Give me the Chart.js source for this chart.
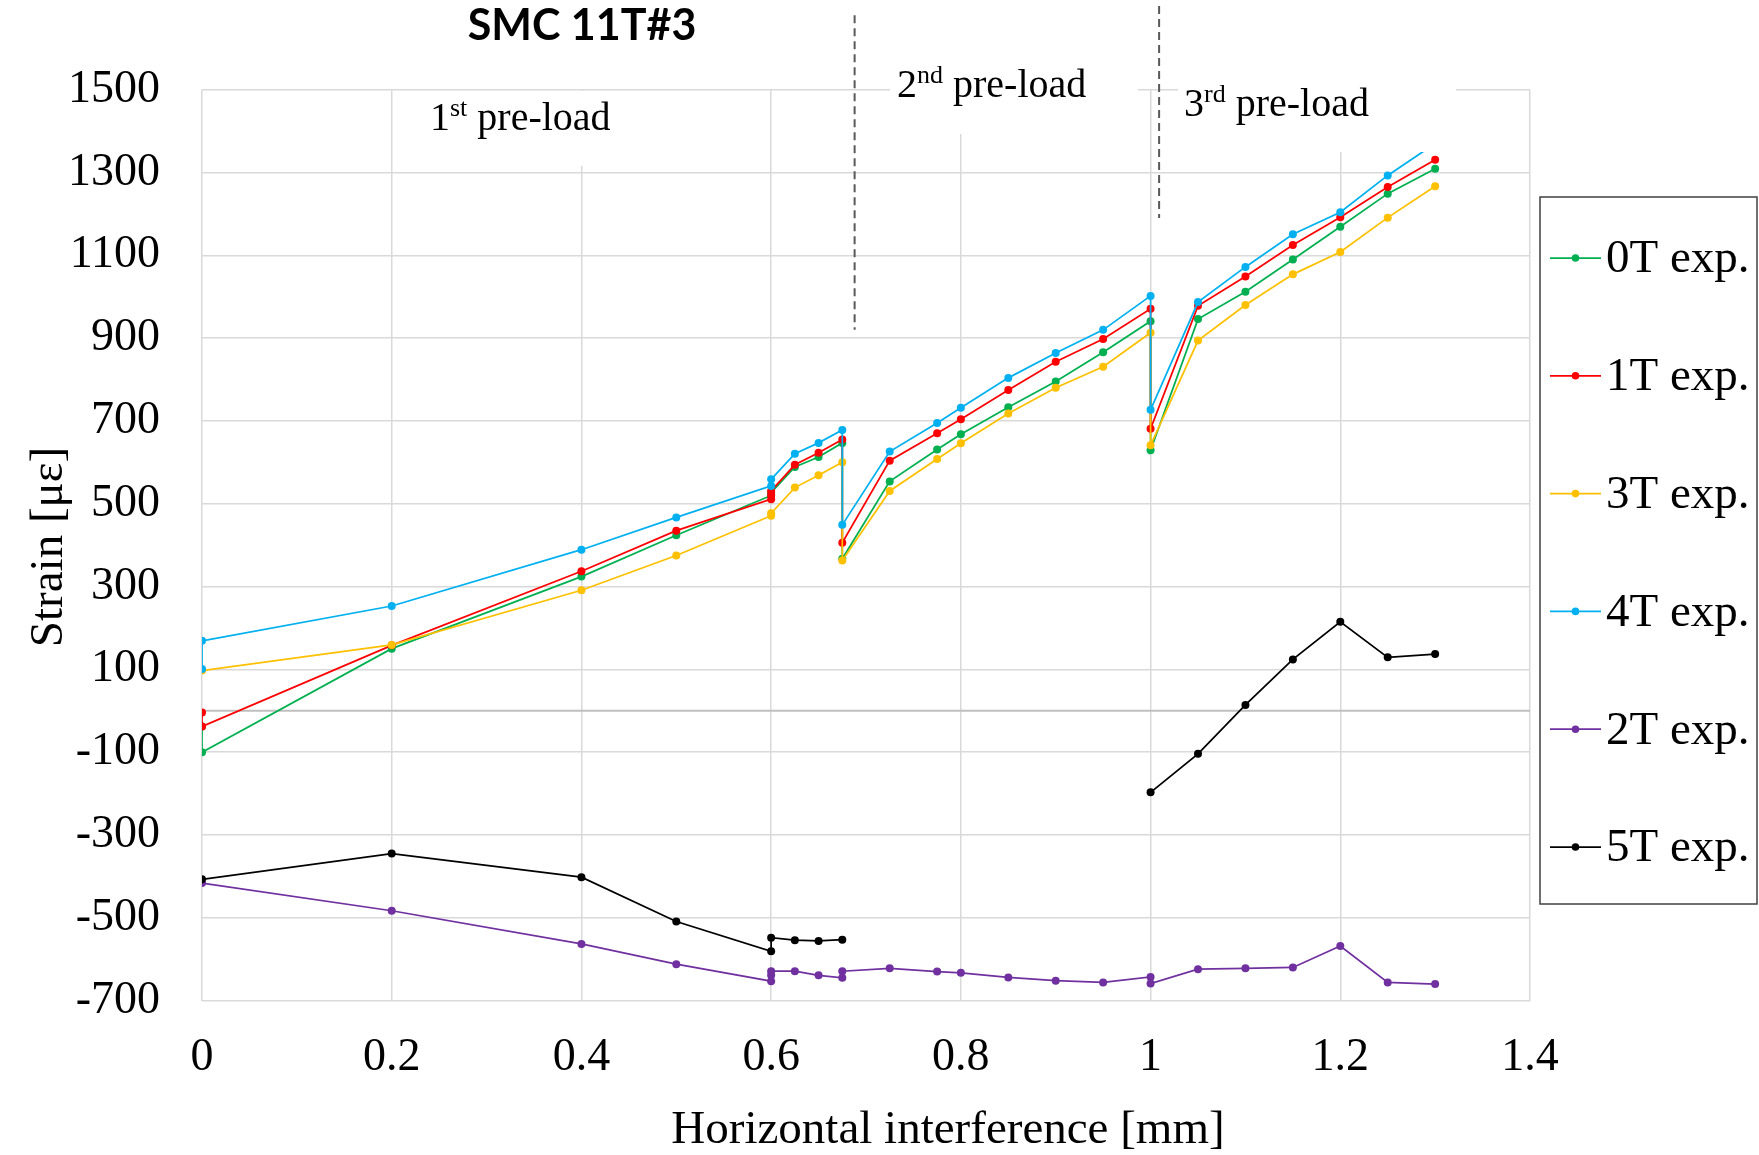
<!DOCTYPE html>
<html>
<head>
<meta charset="utf-8">
<script src="https://cdn.jsdelivr.net/npm/chart.js@4.4.0/dist/chart.umd.min.js"></script>
<style>
  html, body { margin: 0; padding: 0; background: #fff; }
  canvas { display: block; }
</style>
</head>
<body>
<canvas id="chart" width="1759" height="1155"></canvas>
<script>
// series labels, in the legend order of the original
const seriesNames = ["0T exp.", "1T exp.", "3T exp.", "4T exp.", "2T exp.", "5T exp."];
const seriesColors = ["#00B050", "#FF0000", "#FFC000", "#00B0F0", "#7030A0", "#000000"];

const xTicks = [0, 0.2, 0.4, 0.6, 0.8, 1, 1.2, 1.4];
const yTicks = [-700, -500, -300, -100, 100, 300, 500, 700, 900, 1100, 1300, 1500];

// [horizontal interference (mm), strain (µε)]
const exp0T = [[0, -38], [0, -100], [0.2, 150], [0.4, 324], [0.5, 424], [0.6, 520], [0.6, 527],
  [0.625, 589], [0.65, 613], [0.675, 647], [0.675, 367], [0.725, 554], [0.775, 631], [0.8, 668],
  [0.85, 733], [0.9, 795], [0.95, 866], [1, 941], [1, 629], [1.05, 946], [1.1, 1012], [1.15, 1090],
  [1.2, 1169], [1.25, 1249], [1.3, 1309]];
const exp1T = [[0, -4], [0, -38], [0.2, 158], [0.4, 337], [0.5, 435], [0.6, 511], [0.6, 521], [0.6, 531],
  [0.625, 594], [0.65, 623], [0.675, 655], [0.675, 406], [0.725, 604], [0.775, 670], [0.8, 704],
  [0.85, 775], [0.9, 843], [0.95, 898], [1, 971], [1, 681], [1.05, 978], [1.1, 1049], [1.15, 1125],
  [1.2, 1192], [1.25, 1265], [1.3, 1331]];
const exp3T = [[0, 97], [0.2, 159], [0.4, 291], [0.5, 375], [0.6, 471], [0.6, 477],
  [0.625, 539], [0.65, 569], [0.675, 600], [0.675, 363], [0.725, 531], [0.775, 608], [0.8, 646],
  [0.85, 718], [0.9, 780], [0.95, 831], [1, 913], [1, 641], [1.05, 894], [1.1, 980], [1.15, 1054],
  [1.2, 1108], [1.25, 1191], [1.3, 1267]];
const exp4T = [[0, 101], [0, 169], [0.2, 253], [0.4, 389], [0.5, 467], [0.6, 543], [0.6, 559],
  [0.625, 621], [0.65, 647], [0.675, 678], [0.675, 449], [0.725, 626], [0.775, 695], [0.8, 732],
  [0.85, 804], [0.9, 864], [0.95, 920], [1, 1002], [1, 727], [1.05, 987], [1.1, 1072], [1.15, 1151],
  [1.2, 1204], [1.25, 1293], [1.3, 1370]];
const exp2T = [[0, -416], [0.2, -483], [0.4, -563], [0.5, -612], [0.6, -653], [0.6, -639], [0.6, -629],
  [0.625, -629], [0.65, -639], [0.675, -645], [0.675, -629], [0.725, -622], [0.775, -630], [0.8, -633],
  [0.85, -644], [0.9, -652], [0.95, -656], [1, -643], [1, -659], [1.05, -624], [1.1, -622], [1.15, -620],
  [1.2, -568], [1.25, -656], [1.3, -660]];
// null = gap between the first and the third pre-load
const exp5T = [[0, -407], [0.2, -345], [0.4, -402], [0.5, -509], [0.6, -581], [0.6, -548],
  [0.625, -554], [0.65, -556], [0.675, -553], [0.8, null],
  [1, -197], [1.05, -104], [1.1, 14], [1.15, 124], [1.2, 215], [1.25, 129], [1.3, 137]];

const allSeries = [exp0T, exp1T, exp3T, exp4T, exp2T, exp5T];

// pre-load boundaries (dashed), x in mm, y range in µε
const preloadMarks = [
  { x: 0.688, yTop: 1680, yBottom: 920 },
  { x: 1.009, yTop: 1702, yBottom: 1190 },
];
const preloadLabels = [
  { num: "1", sup: "st", x: 430, y: 130, box: [418, 91, 205, 75] },
  { num: "2", sup: "nd", x: 897, y: 97, box: [890, 45, 248, 89] },
  { num: "3", sup: "rd", x: 1184, y: 116, box: [1178, 62, 278, 90] },
];

const SERIF = "'Liberation Serif', 'Times New Roman', serif";

function drawPreloadText(ctx, lab) {
  ctx.fillStyle = "#000";
  ctx.textBaseline = "alphabetic";
  ctx.textAlign = "left";
  ctx.font = "40px " + SERIF;
  ctx.fillText(lab.num, lab.x, lab.y);
  let x = lab.x + ctx.measureText(lab.num).width;
  ctx.font = "26px " + SERIF;
  ctx.fillText(lab.sup, x, lab.y - 14);
  x += ctx.measureText(lab.sup).width;
  ctx.font = "40px " + SERIF;
  ctx.fillText(" pre-load", x, lab.y);
}

const extras = {
  id: "extras",
  beforeDatasetsDraw(chart) {
    const { ctx, chartArea, scales } = chart;
    const y0 = scales.y.getPixelForValue(0);
    ctx.save();
    ctx.strokeStyle = "#bfbfbf";
    ctx.lineWidth = 2;
    ctx.beginPath();
    ctx.moveTo(chartArea.left, y0);
    ctx.lineTo(chartArea.right, y0);
    ctx.stroke();
    ctx.restore();
  },
  afterDatasetsDraw(chart) {
    const { ctx, scales } = chart;
    ctx.save();
    // text boxes with white fill hide what is under them
    preloadLabels.forEach(lab => {
      ctx.fillStyle = "#fff";
      ctx.fillRect(lab.box[0], lab.box[1], lab.box[2], lab.box[3]);
      drawPreloadText(ctx, lab);
    });
    ctx.strokeStyle = "#595959";
    ctx.lineWidth = 2;
    ctx.setLineDash([8, 5]);
    preloadMarks.forEach(m => {
      const px = scales.x.getPixelForValue(m.x);
      ctx.beginPath();
      ctx.moveTo(px, scales.y.getPixelForValue(m.yTop));
      ctx.lineTo(px, scales.y.getPixelForValue(m.yBottom));
      ctx.stroke();
    });
    ctx.restore();
  },
  afterDraw(chart) {
    const { ctx } = chart;
    ctx.save();
    // chart title
    ctx.fillStyle = "#000";
    ctx.font = "bold 43px Lato, 'Open Sans', sans-serif";
    ctx.textAlign = "center";
    ctx.textBaseline = "alphabetic";
    ctx.fillText("SMC 11T#3", 582, 40);

    // axis titles
    ctx.font = "47px " + SERIF;
    ctx.fillText("Horizontal interference [mm]", 948, 1143);
    ctx.save();
    ctx.translate(62, 547);
    ctx.rotate(-Math.PI / 2);
    ctx.fillText("Strain [\u03bc\u03b5]", 0, 0);
    ctx.restore();

    // legend
    const lx = 1540, ly = 197, lw = 217, lh = 707;
    ctx.strokeStyle = "#404040";
    ctx.lineWidth = 1.5;
    ctx.strokeRect(lx, ly, lw, lh);
    ctx.font = "47px " + SERIF;
    ctx.textAlign = "left";
    ctx.textBaseline = "middle";
    chart.data.datasets.forEach((ds, i) => {
      const cy = 258 + i * 117.8;
      ctx.strokeStyle = ds.borderColor;
      ctx.lineWidth = 1.75;
      ctx.beginPath();
      ctx.moveTo(1550, cy);
      ctx.lineTo(1601, cy);
      ctx.stroke();
      ctx.fillStyle = ds.borderColor;
      ctx.beginPath();
      ctx.arc(1575.5, cy, 3.8, 0, Math.PI * 2);
      ctx.fill();
      ctx.fillStyle = "#000";
      ctx.fillText(ds.label, 1606, cy + 2);
    });
    ctx.restore();
  },
};

const datasets = allSeries.map((pts, i) => ({
  label: seriesNames[i],
  data: pts.map(p => ({ x: p[0], y: p[1] })),
  showLine: true,
  spanGaps: false,
  borderColor: seriesColors[i],
  backgroundColor: seriesColors[i],
  borderWidth: 1.75,
  pointRadius: 4,
  pointBorderWidth: 0,
  pointBackgroundColor: seriesColors[i],
  order: allSeries.length - i,
}));

new Chart(document.getElementById("chart"), {
  type: "scatter",
  data: { datasets },
  options: {
    responsive: false,
    animation: false,
    layout: { padding: { left: 0, top: 89.7, right: 229, bottom: 0 } },
    plugins: {
      legend: { display: false },
      title: { display: false },
      tooltip: { enabled: false },
    },
    scales: {
      x: {
        type: "linear",
        min: 0,
        max: 1.4,
        afterBuildTicks: (scale) => { scale.ticks = xTicks.map(v => ({ value: v })); },
        afterFit: (scale) => { scale.height = 154.4; },
        grid: { color: "#d9d9d9", lineWidth: 1.5, drawTicks: false },
        border: { display: false },
        ticks: {
          color: "#000",
          padding: 30,
          font: { family: SERIF, size: 46 },
          callback: (v) => String(Math.round(v * 10) / 10),
        },
      },
      y: {
        type: "linear",
        min: -700,
        max: 1500,
        afterBuildTicks: (scale) => { scale.ticks = yTicks.map(v => ({ value: v })); },
        afterFit: (scale) => { scale.width = 202; },
        grid: { color: "#d9d9d9", lineWidth: 1.5, drawTicks: false },
        border: { display: false },
        ticks: {
          color: "#000",
          padding: 42,
          font: { family: SERIF, size: 46 },
          callback: (v) => String(v),
        },
      },
    },
  },
  plugins: [extras],
});
</script>
</body>
</html>
